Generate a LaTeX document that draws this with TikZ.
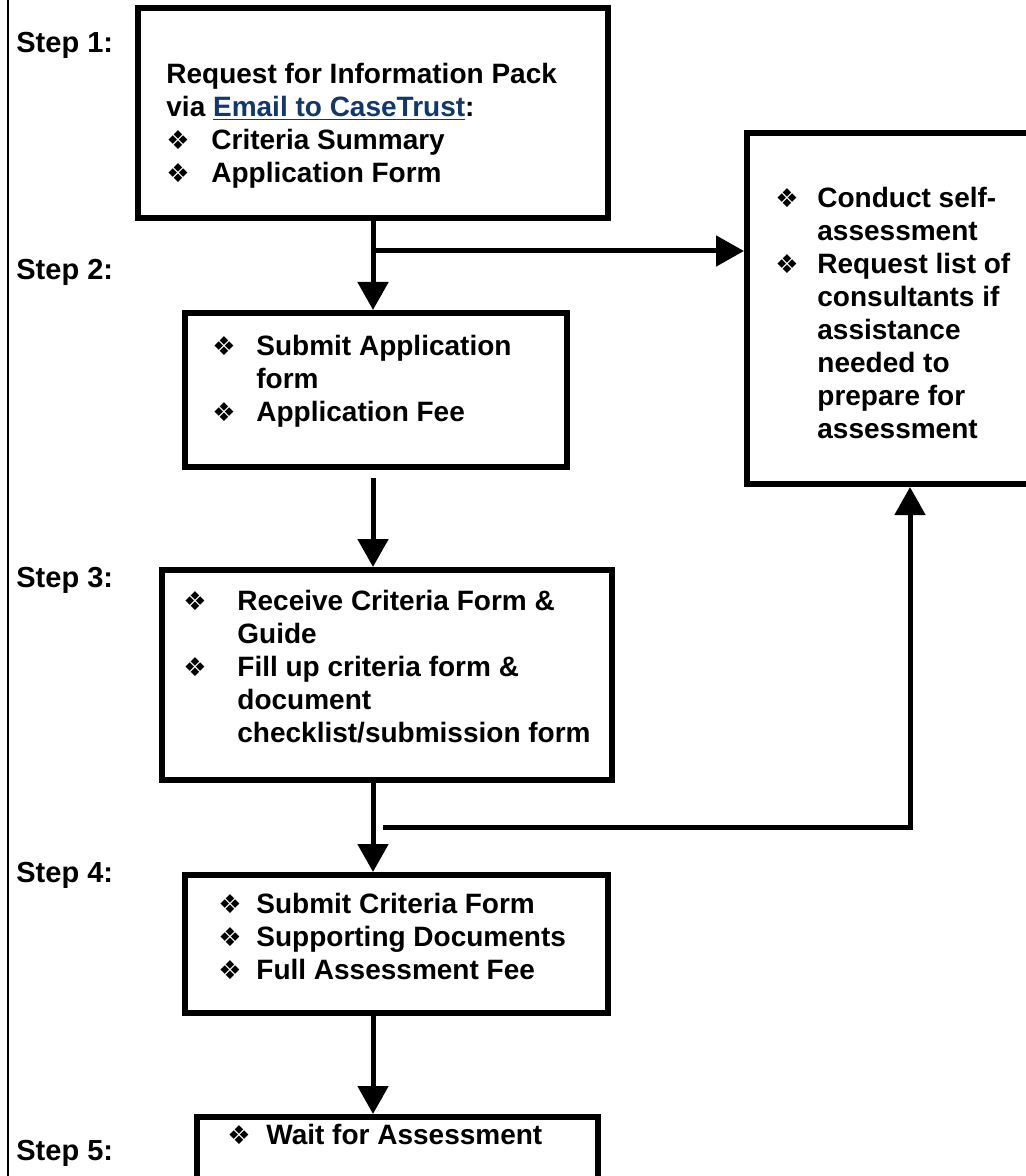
\documentclass[tikz,border=0pt]{standalone}
\usepackage{fontspec}
\setmainfont{Liberation Sans}
\newfontfamily\bulfont{DejaVu Sans}
\usetikzlibrary{arrows.meta,fit}
\definecolor{linkblue}{RGB}{16,55,110}
\newcommand{\bul}[1]{\makebox[#1][l]{\bulfont\fontsize{13pt}{13pt}\selectfont\char"2756}}
\newcommand{\ind}[1]{\hspace*{#1}}

\begin{document}
\begin{tikzpicture}[x=0.5pt,y=-0.5pt,
	stepbox/.style={draw, line width=3pt, inner sep=0pt},
	boxtext/.style={anchor=north west, inner sep=0pt, align=left, font=\bfseries\fontsize{14pt}{16.5pt}\selectfont},
	steplabel/.style={anchor=west, inner sep=0pt, font=\bfseries\fontsize{14.5pt}{16.5pt}\selectfont},
	flow/.style={line width=2.5pt, -{Triangle[length=14pt,width=15pt]}}]

		\useasboundingbox (0,0) rectangle (1026,1176);
		\draw [line width=1pt] (8,0) -- (8,1176);

		\begin{scope}[every node/.style={stepbox}]
			\node [fit={(138,8) (608,218)}] (s1) {};
			\node [fit={(185,313) (567,467)}] (s2) {};
			\node [fit={(162,570) (612,780)}] (s3) {};
			\node [fit={(185,875) (608,1013)}] (s4) {};
			\node [fit={(197,1117) (598,1200)}] (s5) {};
			\node [fit={(747,133) (1040,484)}] (side) {};
		\end{scope}

		\node [steplabel] (l1) at (16,45) {Step 1:};
		\node [steplabel] (l2) at (16,272) {Step 2:};
		\node [steplabel] (l3) at (16,580) {Step 3:};
		\node [steplabel] (l4) at (16,875) {Step 4:};
		\node [steplabel] (l5) at (16,1153) {Step 5:};

		\node [boxtext] (t1) at (166,63) {Request for Information Pack\\
			via {\color{linkblue}\underline{Email to CaseTrust}}:\\
			\bul{22.5pt}Criteria Summary\\
			\bul{22.5pt}Application Form};
		\node [boxtext] (t2) at (212,335) {\bul{22pt}Submit Application\\
			\ind{22pt}form\\
			\bul{22pt}Application Fee};
		\node [boxtext] (t3) at (183,590) {\bul{27pt}Receive Criteria Form \&\\
			\ind{27pt}Guide\\
			\bul{27pt}Fill up criteria form \&\\
			\ind{27pt}document\\
			\ind{27pt}checklist/submission form};
		\node [boxtext] (t4) at (218,893) {\bul{19pt}Submit Criteria Form\\
			\bul{19pt}Supporting Documents\\
			\bul{19pt}Full Assessment Fee};
		\node [boxtext] (t5) at (227,1124) {\bul{19.5pt}Wait for Assessment};
		\node [boxtext] (t6) at (775,187) {\bul{21pt}Conduct self-\\
			\ind{21pt}assessment\\
			\bul{21pt}Request list of\\
			\ind{21pt}consultants if\\
			\ind{21pt}assistance\\
			\ind{21pt}needed to\\
			\ind{21pt}prepare for\\
			\ind{21pt}assessment};

		\coordinate (b1) at (373,251);
		\coordinate (g2) at (373,478);
		\coordinate (r1) at (383,827);
		\coordinate (r2) at (910,827);

		\draw [flow] (s1.south) -- (s1.south |- s2.north);
		\draw [flow] (b1) -- (b1 -| side.west);
		\draw [flow] (g2) -- (g2 |- s3.north);
		\draw [flow] (s1.south |- s3.south) -- (s1.south |- s4.north);
		\draw [flow] (r1) -- (r2) -- (r2 |- side.south);
		\draw [flow] (s1.south |- s4.south) -- (s1.south |- s5.north);

\end{tikzpicture}
\end{document}
